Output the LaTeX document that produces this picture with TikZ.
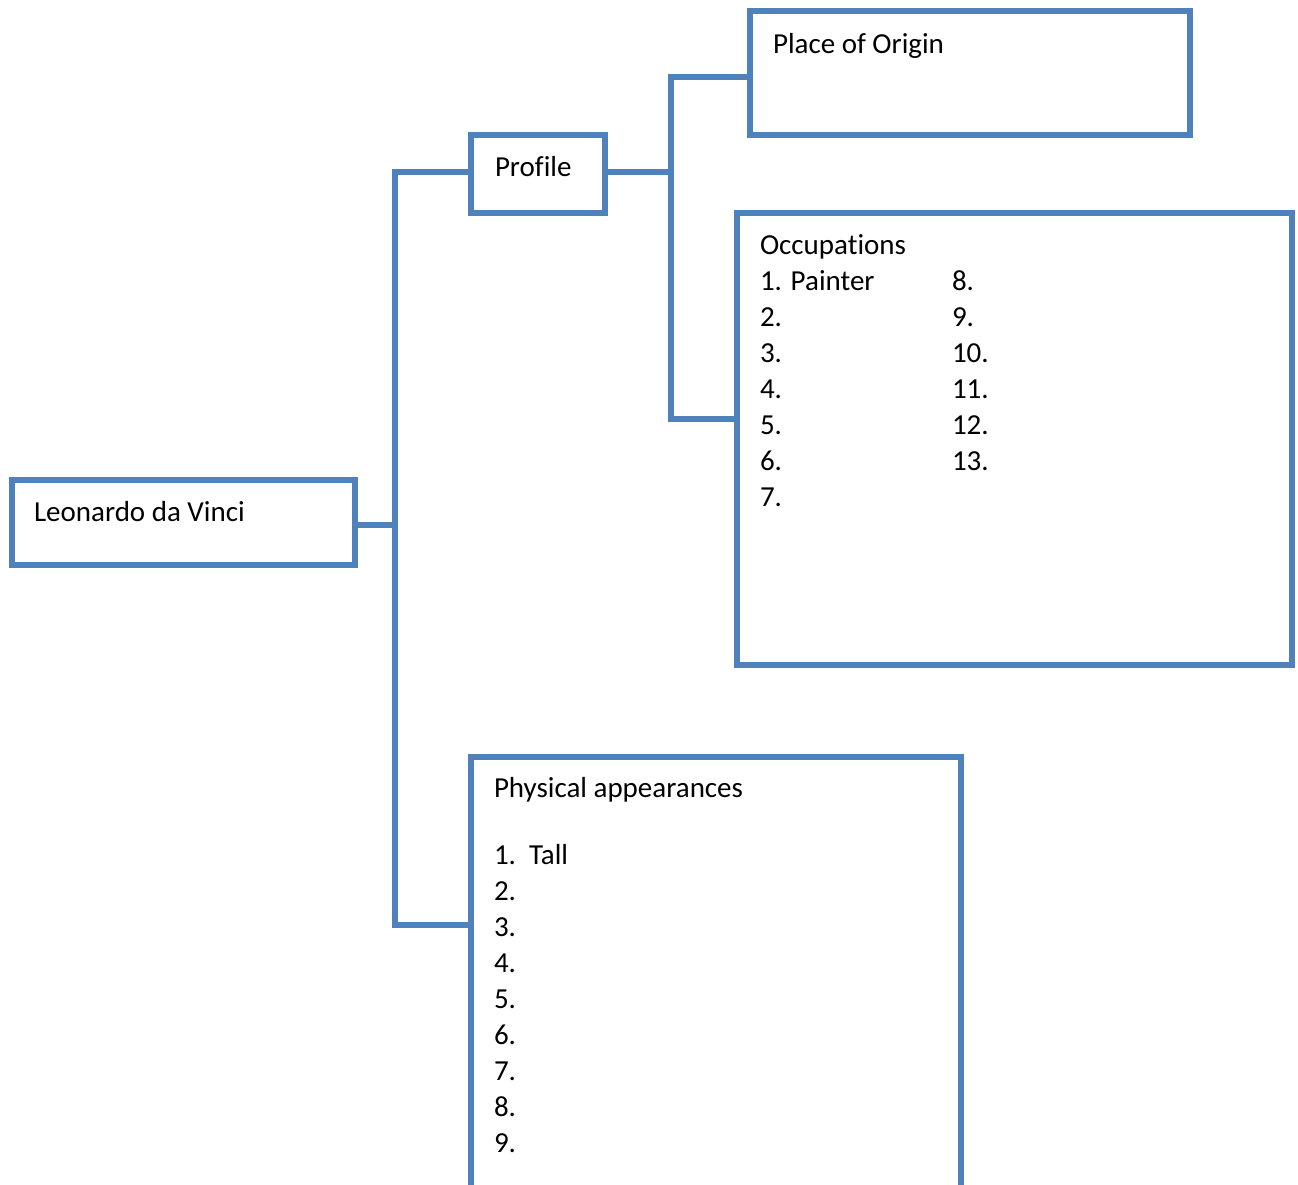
\documentclass[tikz,border=0pt]{standalone}
\usepackage{fontspec}
\setmainfont{Carlito}[RawFeature={-liga;-clig}]
\definecolor{frame}{HTML}{4F81BD}
\begin{document}
\begin{tikzpicture}[x=1pt,y=-1pt,
  box/.style={draw=frame,line width=6pt,rectangle,anchor=north west,inner sep=0pt,outer sep=0pt},
  conn/.style={draw=frame,line width=6pt},
  txt/.style={anchor=base west,inner sep=0pt,outer sep=0pt,font=\fontsize{29}{36}\selectfont}]
\clip (0,0) rectangle (1298,1184);
\useasboundingbox (0,0) rectangle (1298,1184);

% boxes
\node[box,minimum width=343.5pt,minimum height=85pt]  (leo)  at (11.5,480) {};
\node[box,minimum width=134.3pt,minimum height=78pt]  (prof) at (471,135) {};
\node[box,minimum width=440.5pt,minimum height=123.7pt] (orig) at (749.5,11) {};
\node[box,minimum width=555pt,minimum height=452pt]   (occ)  at (737,213) {};
\node[box,minimum width=490pt,minimum height=460pt]   (phys) at (471,757) {};

% junction points of the two trunks
\coordinate (ta) at (395,0);
\coordinate (tb) at (671,0);
\coordinate (leoJ)  at (355,525);
\coordinate (profJ) at (471,171.5);
\coordinate (physJ) at (471,925);
\coordinate (profE) at (605.3,171.5);
\coordinate (origJ) at (749.5,77);
\coordinate (occJ)  at (737,419);

% connectors
\draw[conn] (leoJ) -- (leoJ -| ta);
\draw[conn] (profJ) -| (ta |- physJ) -- (physJ);
\draw[conn] (profE) -- (profE -| tb);
\draw[conn] (origJ) -| (tb |- occJ) -- (occJ);

% labels
\node[txt] (tleo)  at (34,521) {Leonardo da Vinci};
\node[txt] (tprof) at (495,176) {Profile};
\node[txt] (torig) at (773,53) {Place of Origin};

\node[txt] (tocc) at (760,254) {Occupations};
\foreach \n/\t [count=\i] in {1/1. Painter,2/2.,3/3.,4/4.,5/5.,6/6.,7/7.}
  \node[txt] (oa\n) at (760,254+36*\i) {\t};
\foreach \n [count=\i] in {8,9,10,11,12,13}
  \node[txt] (ob\n) at (952,254+36*\i) {\n.};

\node[txt] (tphys) at (494,797) {Physical appearances};
\node[txt] (pa1) at (494,864) {1.};
\node[txt] (pa1t) at (529,864) {Tall};
\foreach \n [count=\i] in {2,...,9}
  \node[txt] (pa\n) at (494,864+36*\i) {\n.};
\end{tikzpicture}
\end{document}
